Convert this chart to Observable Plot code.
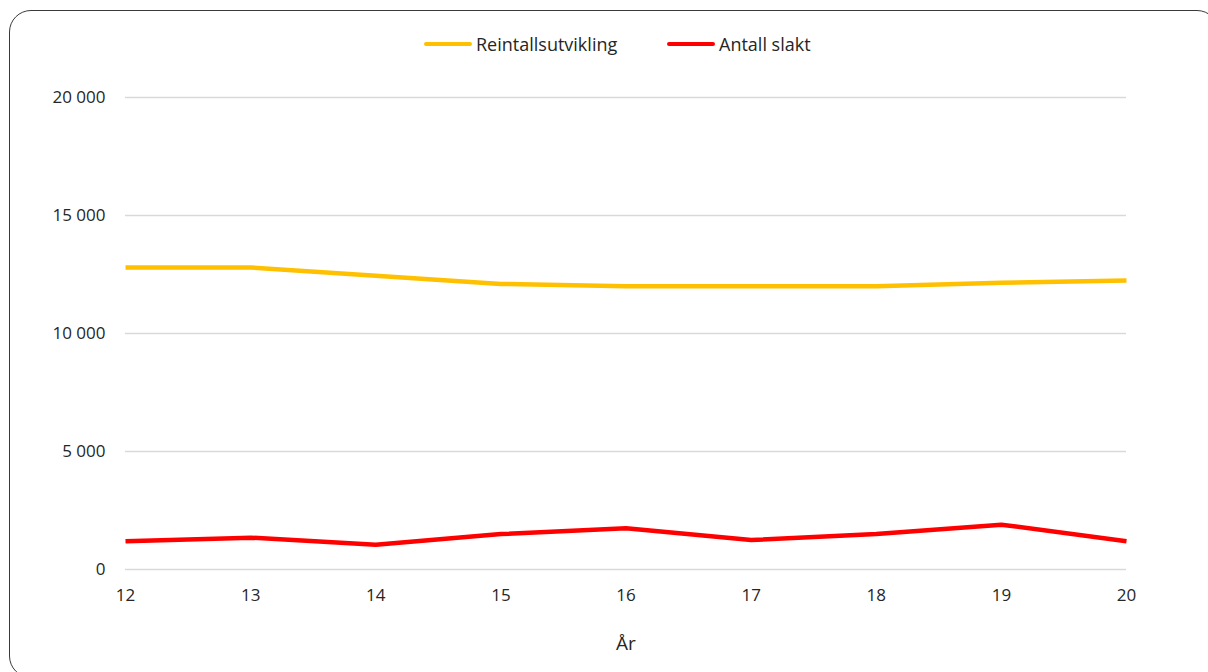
<!DOCTYPE html>
<html>
<head>
<meta charset="utf-8">
<script src="https://cdn.jsdelivr.net/npm/d3@7"></script>
<script src="https://cdn.jsdelivr.net/npm/@observablehq/plot@0.6"></script>
<style>
  html, body { margin: 0; padding: 0; background: #fff; }
  #wrap { position: relative; width: 1208px; height: 672px; overflow: hidden; font-family: "Open Sans", "Liberation Sans", sans-serif; }
  #frame { position: absolute; left: 9px; top: 10px; width: 1210px; height: 668px; border: 1.3px solid #3a3a3a; border-radius: 22px; box-sizing: border-box; }
  #legend { position: absolute; top: 32px; left: 0; width: 1208px; height: 26px; }
  .item { position: absolute; top: 0; display: flex; align-items: center; font-size: 18px; color: #262626; }
  .swatch { width: 48px; height: 4px; border-radius: 2px; margin-right: 4px; }
  #chart { position: absolute; left: 0; top: 0; }
</style>
</head>
<body>
<div id="wrap">
  <div id="frame"></div>
  <div id="legend"></div>
  <div id="chart"></div>
</div>
<script>
const years = [12, 13, 14, 15, 16, 17, 18, 19, 20];
const reintall = [12800, 12800, 12450, 12100, 12000, 12000, 12000, 12150, 12250];
const slakt = [1200, 1350, 1050, 1500, 1750, 1250, 1500, 1900, 1200];
const seriesNames = ["Reintallsutvikling", "Antall slakt"];
const seriesColors = ["#FFC000", "#FF0000"];
const yTicks = [0, 5000, 10000, 15000, 20000];
const xLabel = "År";

const data = [];
years.forEach((yr, i) => {
  data.push({ year: yr, value: reintall[i], series: seriesNames[0] });
  data.push({ year: yr, value: slakt[i], series: seriesNames[1] });
});

const fmt = v => d3.format(",")(v).replace(/,/g, " ");

const chart = Plot.plot({
  width: 1208,
  height: 672,
  marginLeft: 125,
  marginRight: 82,
  marginTop: 97,
  marginBottom: 103,
  style: { fontFamily: "'Open Sans', 'Liberation Sans', sans-serif", fontSize: "17px", color: "#262626", background: "transparent", overflow: "visible" },
  x: { domain: [12, 20], ticks: years, tickFormat: d => String(d), tickSize: 0, tickPadding: 18, label: null },
  y: { domain: [0, 20000], ticks: yTicks, tickFormat: fmt, tickSize: 0, tickPadding: 20, label: null },
  color: { domain: seriesNames, range: seriesColors },
  marks: [
    Plot.gridY(yTicks, { stroke: "#d9d9d9", strokeOpacity: 1, strokeWidth: 1.5 }),
    Plot.line(data, { x: "year", y: "value", z: "series", stroke: "series", strokeWidth: 4.5, strokeLinejoin: "round", strokeLinecap: "butt" }),
    Plot.axisX({ ticks: years, tickFormat: d => String(d), tickSize: 0, tickPadding: 19, fill: "#262626", label: null }),
    Plot.axisY({ ticks: yTicks, tickFormat: fmt, tickSize: 0, tickPadding: 20, fill: "#262626", label: null }),
    Plot.text([xLabel], { frameAnchor: "bottom", dy: 80, fill: "#262626", fontSize: 19, lineAnchor: "bottom" })
  ]
});
document.getElementById("chart").appendChild(chart);

const legend = document.getElementById("legend");
const positions = [424, 667];
seriesNames.forEach((name, i) => {
  const it = document.createElement("div");
  it.className = "item";
  it.style.left = positions[i] + "px";
  const sw = document.createElement("div");
  sw.className = "swatch";
  sw.style.background = seriesColors[i];
  const tx = document.createElement("span");
  tx.textContent = name;
  it.appendChild(sw);
  it.appendChild(tx);
  legend.appendChild(it);
});
</script>
</body>
</html>
